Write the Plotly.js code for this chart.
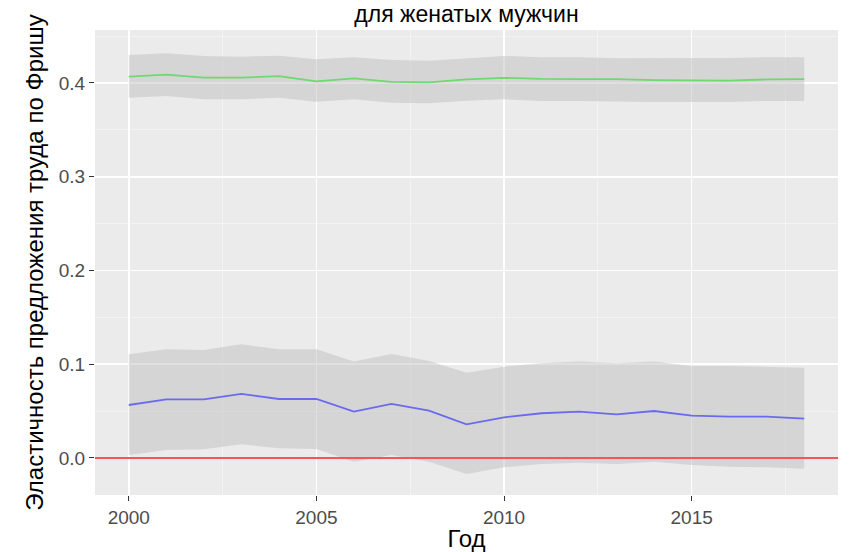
<!DOCTYPE html>
<html><head><meta charset="utf-8">
<script src="https://cdn.plot.ly/plotly-3.0.1.min.js"></script>
<style>html,body{margin:0;padding:0;background:#fff}#chart{width:849px;height:552px}</style>
</head><body><div id="chart"></div>
<script>
const years = [2000,2001,2002,2003,2004,2005,2006,2007,2008,2009,2010,2011,2012,2013,2014,2015,2016,2017,2018];
const greenMid = [0.4067,0.4090,0.4057,0.4057,0.4072,0.4018,0.4050,0.4011,0.4007,0.4039,0.4055,0.4043,0.4040,0.4040,0.4030,0.4029,0.4025,0.4038,0.4040];
const greenHi  = [0.4299,0.4316,0.4288,0.4281,0.4291,0.4252,0.4274,0.4245,0.4238,0.4263,0.4288,0.4274,0.4274,0.4263,0.4263,0.4263,0.4267,0.4274,0.4274];
const greenLo  = [0.3843,0.3861,0.3826,0.3826,0.3843,0.3800,0.3826,0.3790,0.3783,0.3811,0.3826,0.3808,0.3808,0.3800,0.3797,0.3797,0.3797,0.3808,0.3808];
const blueMid  = [0.0565,0.0626,0.0626,0.0683,0.0629,0.0629,0.0494,0.0576,0.0505,0.0359,0.0434,0.0477,0.0494,0.0466,0.0501,0.0451,0.0441,0.0441,0.0419];
const blueHi   = [0.1106,0.1160,0.1152,0.1213,0.1160,0.1160,0.1028,0.1110,0.1035,0.0910,0.0974,0.1010,0.1028,0.1010,0.1028,0.0981,0.0981,0.0974,0.0963];
const blueLo   = [0.0032,0.0085,0.0093,0.0146,0.0103,0.0096,-0.0039,0.0032,-0.0039,-0.0171,-0.0099,-0.0064,-0.0050,-0.0064,-0.0039,-0.0075,-0.0093,-0.0099,-0.0114];
const zeroLevel = 0;
const xTicks = [2000,2005,2010,2015];
const yTicks = [0,0.1,0.2,0.3,0.4];
const yTickText = ['0.0','0.1','0.2','0.3','0.4'];

const bandFill = 'rgba(186,186,186,0.45)';
function band(lo, hi){
  return [
    {x: years, y: lo, type:'scatter', mode:'lines', line:{width:0}, hoverinfo:'skip', showlegend:false},
    {x: years, y: hi, type:'scatter', mode:'lines', line:{width:0}, fill:'tonexty', fillcolor:bandFill, hoverinfo:'skip', showlegend:false}
  ];
}
const data = [
  ...band(greenLo, greenHi),
  ...band(blueLo, blueHi),
  {x: years, y: greenMid, type:'scatter', mode:'lines', line:{color:'#6fd86f', width:1.8}, showlegend:false},
  {x: years, y: blueMid, type:'scatter', mode:'lines', line:{color:'#6a6af0', width:1.8}, showlegend:false}
];
const layout = {
  width:849, height:552,
  margin:{l:95, r:11, t:30, b:57},
  paper_bgcolor:'#ffffff', plot_bgcolor:'#ebebeb',
  font:{family:'Liberation Sans, Arial, sans-serif', color:'#000'},
  title:{text:'для женатых мужчин', x:0.5, xref:'paper', xanchor:'center', y:0.975, yanchor:'middle', font:{size:23, color:'#000'}},
  xaxis:{range:[1999.1,2018.9], tickvals:xTicks, ticktext:xTicks.map(String), showgrid:true, gridcolor:'#ffffff', gridwidth:1.6,
    minor:{dtick:2.5, tick0:2000, showgrid:true, gridcolor:'#f5f5f5', gridwidth:0.8, ticks:''},
    zeroline:false, showline:false, ticks:'outside', ticklen:5, tickcolor:'#333', tickwidth:1,
    tickfont:{size:19, color:'#4d4d4d'},
    title:{text:'Год', font:{size:24, color:'#000'}, standoff:4}},
  yaxis:{range:[-0.0395,0.4565], tickvals:yTicks, ticktext:yTickText, showgrid:true, gridcolor:'#ffffff', gridwidth:1.6,
    minor:{dtick:0.05, tick0:0, showgrid:true, gridcolor:'#f5f5f5', gridwidth:0.8, ticks:''},
    zeroline:false, showline:false, ticks:'outside', ticklen:5, tickcolor:'#333', tickwidth:1,
    tickfont:{size:19, color:'#4d4d4d'},
    title:{text:'Эластичность предложения труда по Фришу', font:{size:24, color:'#000'}, standoff:8}},
  shapes:[{type:'line', xref:'paper', x0:0, x1:1, yref:'y', y0:zeroLevel, y1:zeroLevel, line:{color:'#f25757', width:2}, layer:'above'}]
};
Plotly.newPlot('chart', data, layout, {displayModeBar:false, staticPlot:true});
</script></body></html>
